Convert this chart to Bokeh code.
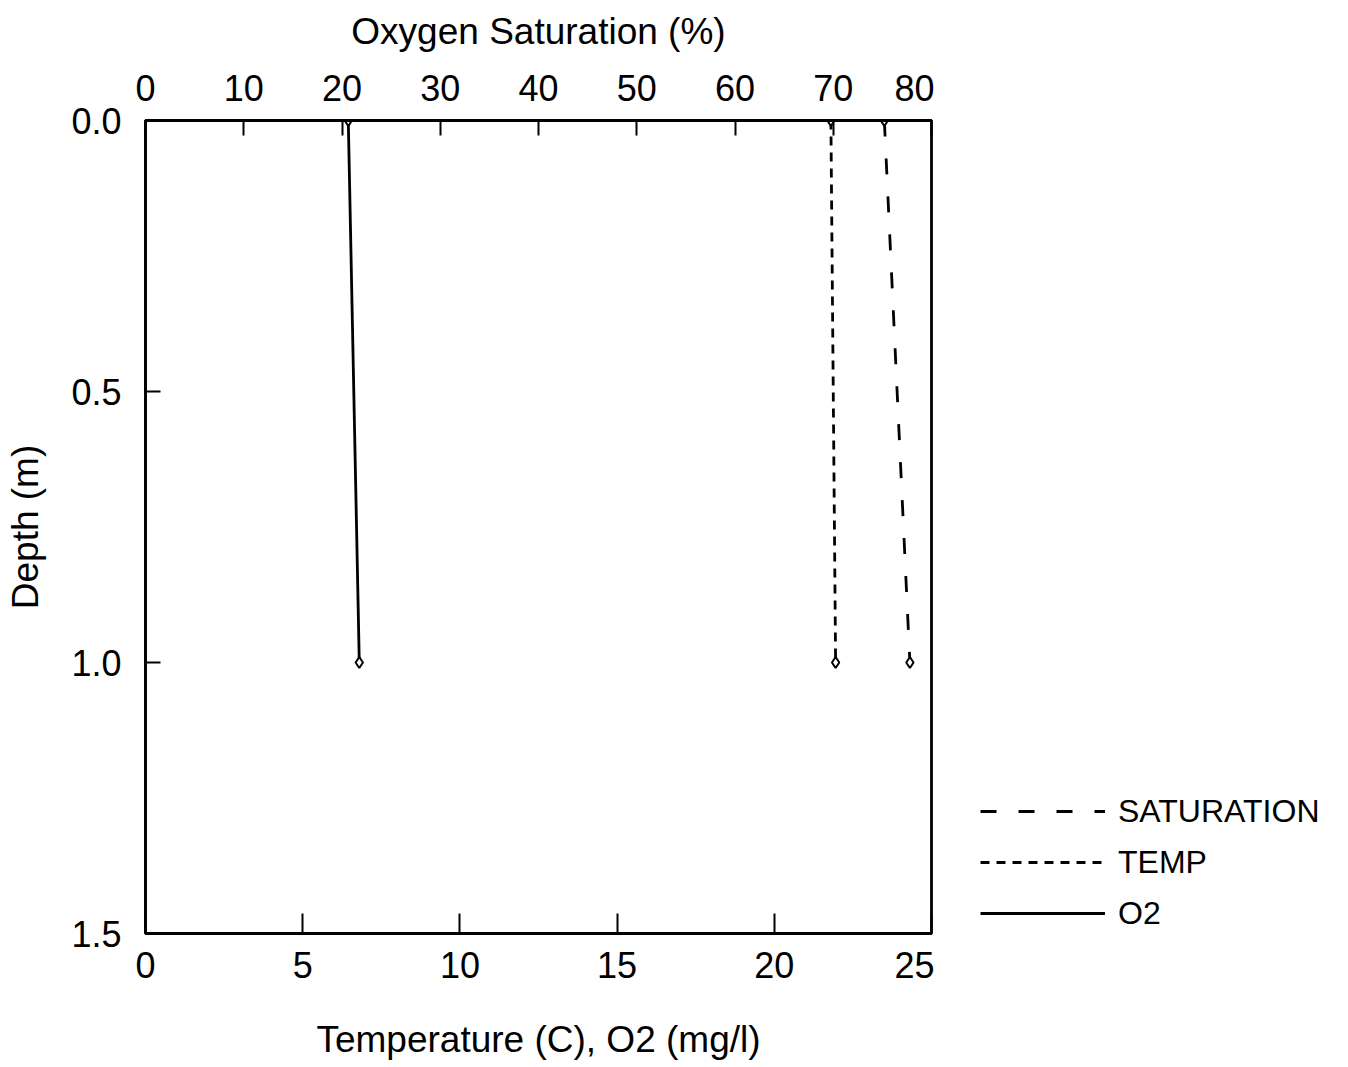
from bokeh.plotting import figure
from bokeh.layouts import row
from bokeh.models import (Range1d, LinearAxis, FixedTicker, PrintfTickFormatter,
                          Legend, LegendItem)
from bokeh.embed import file_html
from bokeh.resources import INLINE

# ---- data ----
depth = [0.0, 1.0]
o2_mgl = [6.45, 6.8]
temp_c = [21.8, 21.95]
saturation_pct = [75.2, 77.8]

bottom_ticks = [0, 5, 10, 15, 20, 25]
top_ticks = [0, 10, 20, 30, 40, 50, 60, 70, 80]
depth_ticks = [0.0, 0.5, 1.0, 1.5]
series_names = ["SATURATION", "TEMP", "O2"]

FONT = "Liberation Sans"
SAT_DASH = "16 22"
TEMP_DASH = "9 7"
LW = 2.8

FRAME_H = 813
TOP_B = 120
BOT_B = 117

p = figure(frame_width=786, frame_height=FRAME_H, output_backend="svg", toolbar_location=None,
           x_range=Range1d(0, 25), y_range=Range1d(1.5, 0.0),
           x_axis_location="below", y_axis_location="left",
           min_border_left=145, min_border_right=3,
           min_border_top=TOP_B, min_border_bottom=BOT_B)
p.extra_x_ranges = {"sat": Range1d(0, 80)}
p.grid.visible = False
p.background_fill_color = "white"
p.border_fill_color = "white"
p.outline_line_color = "black"
p.outline_line_width = 2.8

def style_axis(ax, ticks, label, standoff, lstandoff, tick_in=15):
    ax.ticker = FixedTicker(ticks=ticks)
    ax.axis_label = label
    ax.axis_label_text_font = FONT
    ax.axis_label_text_font_size = "37px"
    ax.axis_label_text_font_style = "normal"
    ax.axis_label_text_color = "black"
    ax.axis_label_standoff = lstandoff
    ax.major_label_text_font = FONT
    ax.major_label_text_font_size = "36px"
    ax.major_label_text_color = "black"
    ax.major_label_standoff = standoff
    ax.major_tick_in = tick_in
    ax.major_tick_out = 0
    ax.major_tick_line_width = 2
    ax.major_tick_line_color = "black"
    ax.minor_tick_line_color = None
    ax.axis_line_color = "black"
    ax.axis_line_width = 2.8

style_axis(p.xaxis[0], bottom_ticks, "Temperature (C), O2 (mg/l)", 18, 38, tick_in=20)
style_axis(p.yaxis[0], depth_ticks, "Depth (m)", 24, 22)
p.yaxis[0].formatter = PrintfTickFormatter(format="%.1f")

top = LinearAxis(x_range_name="sat")
style_axis(top, top_ticks, "Oxygen Saturation (%)", 20, 20)
p.add_layout(top, "above")

# ---- series ----
p.line(saturation_pct, depth, x_range_name="sat", line_color="black",
       line_width=LW, line_dash=SAT_DASH)
p.scatter(saturation_pct, depth, x_range_name="sat", marker="diamond", size=11,
          line_color="black", line_width=2, fill_color="white")

p.line(temp_c, depth, line_color="black", line_width=LW, line_dash=TEMP_DASH)
p.scatter(temp_c, depth, marker="diamond", size=11,
          line_color="black", line_width=2, fill_color="white")

p.line(o2_mgl, depth, line_color="black", line_width=LW)
p.scatter(o2_mgl, depth, marker="diamond", size=11,
          line_color="black", line_width=2, fill_color="white")

# ---- legend panel (to the right of the frame, outside the axes) ----
# same vertical geometry as the main figure so the row's frame alignment is a no-op
nan = float("nan")
lg = figure(frame_width=352, frame_height=FRAME_H, output_backend="svg", toolbar_location=None,
            x_axis_location=None, y_axis_location=None,
            x_range=Range1d(0, 1), y_range=Range1d(0, 1),
            min_border_left=46, min_border_right=0, min_border_top=TOP_B,
            min_border_bottom=BOT_B)
lg.grid.visible = False
lg.outline_line_color = None
lg.background_fill_color = "white"
lg.border_fill_color = "white"

# legend key proxies (no visible data)
k_sat = lg.line([nan, nan], [nan, nan], line_color="black", line_width=LW,
                line_dash=SAT_DASH)
k_temp = lg.line([nan, nan], [nan, nan], line_color="black", line_width=LW,
                 line_dash=TEMP_DASH)
k_o2 = lg.line([nan, nan], [nan, nan], line_color="black", line_width=LW)

legend = Legend(items=[LegendItem(label=series_names[0], renderers=[k_sat]),
                       LegendItem(label=series_names[1], renderers=[k_temp]),
                       LegendItem(label=series_names[2], renderers=[k_o2])],
                location="bottom_left", orientation="vertical",
                glyph_width=125, glyph_height=40, spacing=11,
                label_standoff=13, padding=0, margin=0,
                label_text_font=FONT, label_text_font_size="32px",
                label_text_color="black",
                border_line_alpha=0, background_fill_alpha=0)
lg.add_layout(legend, "center")

layout = row(p, lg, spacing=0)
open("out.html", "w").write(file_html(layout, INLINE))
